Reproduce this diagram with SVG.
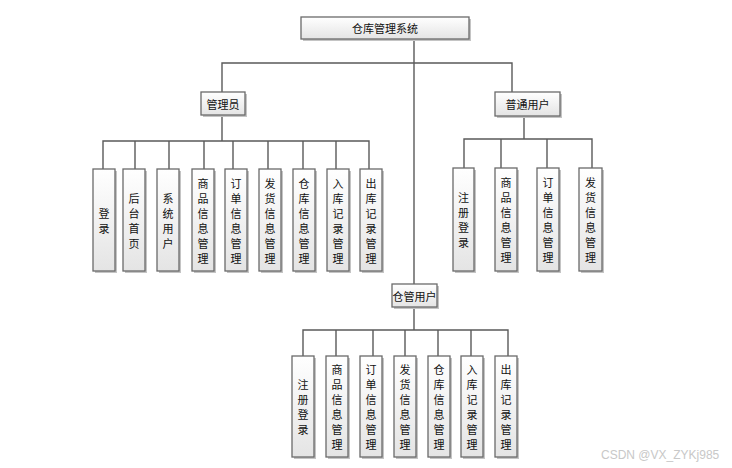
<svg xmlns="http://www.w3.org/2000/svg" width="732" height="468" viewBox="0 0 732 468">
<defs>
<linearGradient id="g" x1="0" y1="0" x2="0" y2="1">
<stop offset="0" stop-color="#ffffff"/>
<stop offset="1" stop-color="#e4e4e4"/>
</linearGradient>
</defs>
<style>
.sh{fill:#c4c4c4}
.bx{fill:url(#g);stroke:#6a6a6a;stroke-width:1.3}
.t{font-family:"Noto Sans CJK SC","Noto Sans",sans-serif;font-size:11px;fill:#111;text-anchor:middle;dominant-baseline:central}
.ln{stroke:#5a5a5a;stroke-width:1.4;fill:none}
.wm{font-family:"Liberation Sans",Arial,sans-serif;font-size:12px;fill:#c8c8c8}
</style>
<rect width="732" height="468" fill="#ffffff"/>
<g id="connectors" class="ln">
<path d="M414 39V284M222 92V63H512V92"/>
<path d="M222 115V141M103 169V141H369V169M135 141V169M169 141V169M204 141V169M233 141V169M268 141V169M303 141V169M336 141V169"/>
<path d="M524 116V139M464 168V139H592V168M501 139V168M547 139V168"/>
<path d="M414 307V330M303 356V330H508V356M336 330V356M373 330V356M405 330V356M438 330V356M471 330V356"/>
</g>
<g id="root"><rect class="sh" x="303" y="19" width="168" height="22"/><rect class="bx" x="301" y="17" width="168" height="22"/><text class="t" x="385" y="28">仓库管理系统</text></g>
<g id="admin"><rect class="sh" x="203" y="94" width="44" height="23"/><rect class="bx" x="201" y="92" width="44" height="23"/><text class="t" x="223" y="103.5">管理员</text></g>
<g id="user"><rect class="sh" x="497" y="94" width="65" height="24"/><rect class="bx" x="495" y="92" width="65" height="24"/><text class="t" x="527.5" y="104">普通用户</text></g>
<g id="keeper"><rect class="sh" x="394" y="286" width="45" height="23"/><rect class="bx" x="392" y="284" width="45" height="23"/><text class="t" x="414.5" y="295.5">仓管用户</text></g>

<g id="a1"><rect class="sh" x="95" y="171" width="22" height="102"/><rect class="bx" x="93" y="169" width="22" height="102"/><text class="t"><tspan x="104" y="212.5">登</tspan><tspan x="104" dy="15">录</tspan></text></g>
<g id="a2"><rect class="sh" x="125" y="171" width="22" height="102"/><rect class="bx" x="123" y="169" width="22" height="102"/><text class="t"><tspan x="134" y="197.5">后</tspan><tspan x="134" dy="15">台</tspan><tspan x="134" dy="15">首</tspan><tspan x="134" dy="15">页</tspan></text></g>
<g id="a3"><rect class="sh" x="159" y="171" width="22" height="102"/><rect class="bx" x="157" y="169" width="22" height="102"/><text class="t"><tspan x="168" y="197.5">系</tspan><tspan x="168" dy="15">统</tspan><tspan x="168" dy="15">用</tspan><tspan x="168" dy="15">户</tspan></text></g>
<g id="a4"><rect class="sh" x="194" y="171" width="22" height="102"/><rect class="bx" x="192" y="169" width="22" height="102"/><text class="t"><tspan x="203" y="182.5">商</tspan><tspan x="203" dy="15">品</tspan><tspan x="203" dy="15">信</tspan><tspan x="203" dy="15">息</tspan><tspan x="203" dy="15">管</tspan><tspan x="203" dy="15">理</tspan></text></g>
<g id="a5"><rect class="sh" x="227" y="171" width="22" height="102"/><rect class="bx" x="225" y="169" width="22" height="102"/><text class="t"><tspan x="236" y="182.5">订</tspan><tspan x="236" dy="15">单</tspan><tspan x="236" dy="15">信</tspan><tspan x="236" dy="15">息</tspan><tspan x="236" dy="15">管</tspan><tspan x="236" dy="15">理</tspan></text></g>
<g id="a6"><rect class="sh" x="261" y="171" width="22" height="102"/><rect class="bx" x="259" y="169" width="22" height="102"/><text class="t"><tspan x="270" y="182.5">发</tspan><tspan x="270" dy="15">货</tspan><tspan x="270" dy="15">信</tspan><tspan x="270" dy="15">息</tspan><tspan x="270" dy="15">管</tspan><tspan x="270" dy="15">理</tspan></text></g>
<g id="a7"><rect class="sh" x="295" y="171" width="22" height="102"/><rect class="bx" x="293" y="169" width="22" height="102"/><text class="t"><tspan x="304" y="182.5">仓</tspan><tspan x="304" dy="15">库</tspan><tspan x="304" dy="15">信</tspan><tspan x="304" dy="15">息</tspan><tspan x="304" dy="15">管</tspan><tspan x="304" dy="15">理</tspan></text></g>
<g id="a8"><rect class="sh" x="329" y="171" width="22" height="102"/><rect class="bx" x="327" y="169" width="22" height="102"/><text class="t"><tspan x="338" y="182.5">入</tspan><tspan x="338" dy="15">库</tspan><tspan x="338" dy="15">记</tspan><tspan x="338" dy="15">录</tspan><tspan x="338" dy="15">管</tspan><tspan x="338" dy="15">理</tspan></text></g>
<g id="a9"><rect class="sh" x="362" y="171" width="22" height="102"/><rect class="bx" x="360" y="169" width="22" height="102"/><text class="t"><tspan x="371" y="182.5">出</tspan><tspan x="371" dy="15">库</tspan><tspan x="371" dy="15">记</tspan><tspan x="371" dy="15">录</tspan><tspan x="371" dy="15">管</tspan><tspan x="371" dy="15">理</tspan></text></g>

<g id="u1"><rect class="sh" x="455" y="170" width="21" height="103"/><rect class="bx" x="453" y="168" width="21" height="103"/><text class="t"><tspan x="463.5" y="197">注</tspan><tspan x="463.5" dy="15">册</tspan><tspan x="463.5" dy="15">登</tspan><tspan x="463.5" dy="15">录</tspan></text></g>
<g id="u2"><rect class="sh" x="497" y="170" width="22" height="103"/><rect class="bx" x="495" y="168" width="22" height="103"/><text class="t"><tspan x="506" y="182">商</tspan><tspan x="506" dy="15">品</tspan><tspan x="506" dy="15">信</tspan><tspan x="506" dy="15">息</tspan><tspan x="506" dy="15">管</tspan><tspan x="506" dy="15">理</tspan></text></g>
<g id="u3"><rect class="sh" x="539" y="170" width="22" height="103"/><rect class="bx" x="537" y="168" width="22" height="103"/><text class="t"><tspan x="548" y="182">订</tspan><tspan x="548" dy="15">单</tspan><tspan x="548" dy="15">信</tspan><tspan x="548" dy="15">息</tspan><tspan x="548" dy="15">管</tspan><tspan x="548" dy="15">理</tspan></text></g>
<g id="u4"><rect class="sh" x="581" y="170" width="23" height="103"/><rect class="bx" x="579" y="168" width="23" height="103"/><text class="t"><tspan x="590.5" y="182">发</tspan><tspan x="590.5" dy="15">货</tspan><tspan x="590.5" dy="15">信</tspan><tspan x="590.5" dy="15">息</tspan><tspan x="590.5" dy="15">管</tspan><tspan x="590.5" dy="15">理</tspan></text></g>

<g id="k1"><rect class="sh" x="294" y="358" width="22" height="101"/><rect class="bx" x="292" y="356" width="22" height="101"/><text class="t"><tspan x="303" y="384">注</tspan><tspan x="303" dy="15">册</tspan><tspan x="303" dy="15">登</tspan><tspan x="303" dy="15">录</tspan></text></g>
<g id="k2"><rect class="sh" x="328" y="358" width="22" height="101"/><rect class="bx" x="326" y="356" width="22" height="101"/><text class="t"><tspan x="337" y="369">商</tspan><tspan x="337" dy="15">品</tspan><tspan x="337" dy="15">信</tspan><tspan x="337" dy="15">息</tspan><tspan x="337" dy="15">管</tspan><tspan x="337" dy="15">理</tspan></text></g>
<g id="k3"><rect class="sh" x="362" y="358" width="22" height="101"/><rect class="bx" x="360" y="356" width="22" height="101"/><text class="t"><tspan x="371" y="369">订</tspan><tspan x="371" dy="15">单</tspan><tspan x="371" dy="15">信</tspan><tspan x="371" dy="15">息</tspan><tspan x="371" dy="15">管</tspan><tspan x="371" dy="15">理</tspan></text></g>
<g id="k4"><rect class="sh" x="396" y="358" width="22" height="101"/><rect class="bx" x="394" y="356" width="22" height="101"/><text class="t"><tspan x="405" y="369">发</tspan><tspan x="405" dy="15">货</tspan><tspan x="405" dy="15">信</tspan><tspan x="405" dy="15">息</tspan><tspan x="405" dy="15">管</tspan><tspan x="405" dy="15">理</tspan></text></g>
<g id="k5"><rect class="sh" x="430" y="358" width="22" height="101"/><rect class="bx" x="428" y="356" width="22" height="101"/><text class="t"><tspan x="439" y="369">仓</tspan><tspan x="439" dy="15">库</tspan><tspan x="439" dy="15">信</tspan><tspan x="439" dy="15">息</tspan><tspan x="439" dy="15">管</tspan><tspan x="439" dy="15">理</tspan></text></g>
<g id="k6"><rect class="sh" x="463" y="358" width="22" height="101"/><rect class="bx" x="461" y="356" width="22" height="101"/><text class="t"><tspan x="472" y="369">入</tspan><tspan x="472" dy="15">库</tspan><tspan x="472" dy="15">记</tspan><tspan x="472" dy="15">录</tspan><tspan x="472" dy="15">管</tspan><tspan x="472" dy="15">理</tspan></text></g>
<g id="k7"><rect class="sh" x="497" y="358" width="22" height="101"/><rect class="bx" x="495" y="356" width="22" height="101"/><text class="t"><tspan x="506" y="369">出</tspan><tspan x="506" dy="15">库</tspan><tspan x="506" dy="15">记</tspan><tspan x="506" dy="15">录</tspan><tspan x="506" dy="15">管</tspan><tspan x="506" dy="15">理</tspan></text></g>

<text class="wm" x="601" y="459">CSDN @VX_ZYKj985</text>
</svg>
